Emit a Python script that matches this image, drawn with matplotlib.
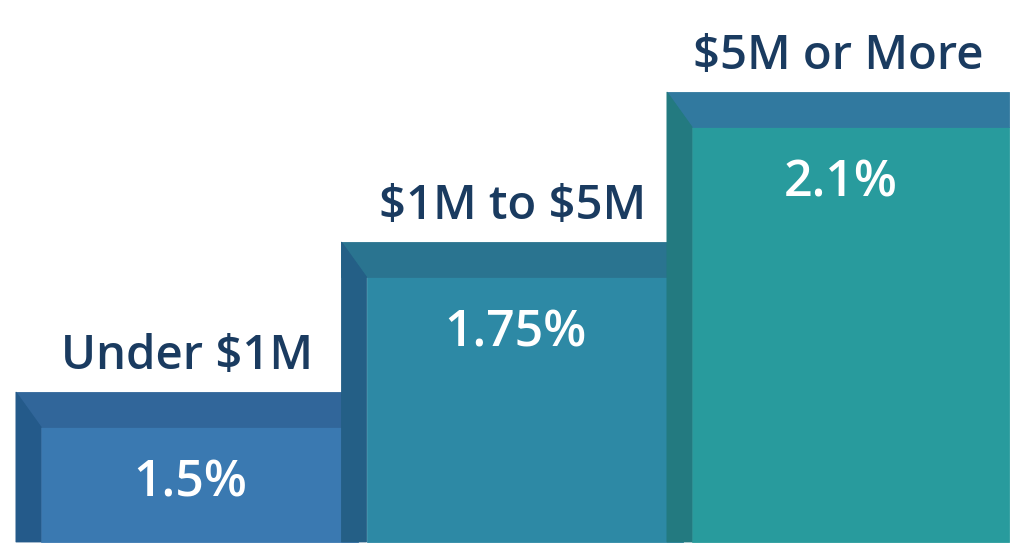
import matplotlib.pyplot as plt
from matplotlib.patches import Polygon, Rectangle

# data
tiers = [r"Under \$1M", r"\$1M to \$5M", r"\$5M or More"]
rates = ["1.5%", "1.75%", "2.1%"]
steps = [1, 2, 3]  # staircase level of each tier

front_colors = ["#3a79b1", "#2d89a5", "#289b9d"]
top_colors = ["#31669a", "#2a7490", "#31799f"]
side_colors = ["#245a8a", "#245f86", "#237a80"]

plt.rcParams['font.family'] = ['Open Sans', 'DejaVu Sans']

fig = plt.figure(figsize=(10.24, 5.59), dpi=100)
ax = fig.add_axes([0, 0, 1, 1])
ax.set_xlim(-0.049, -0.049 + 1024 / 325.5)
ax.set_ylim(-17 / 150, (559 - 17) / 150)
ax.axis('off')

width = 1.05   # bar width incl. side face
dx = 0.077     # side face depth (x)
dy = 0.233     # top face depth (y)

for i, (lab, val, h) in enumerate(zip(tiers, rates, steps)):
    left = i
    # front face
    ax.add_patch(Rectangle((left + dx, 0), width - dx, h - dy,
                           facecolor=front_colors[i], edgecolor=front_colors[i], lw=0.6))
    # top face
    ax.add_patch(Rectangle((left, h - dy), width, dy,
                           facecolor=top_colors[i], edgecolor=top_colors[i], lw=0.6))
    # left side face
    ax.add_patch(Polygon([(left, h), (left + dx, h - dy), (left + dx, 0), (left, 0)],
                         closed=True, facecolor=side_colors[i],
                         edgecolor=side_colors[i], lw=0.6))

    cx = left + width / 2
    ax.text(cx, h + 0.15, lab, ha='center', va='baseline', fontsize=34,
            fontweight='semibold', color='#1a3b60')
    ax.text(cx + 0.01, h - dy - 0.38, val, ha='center', va='center', fontsize=36,
            fontweight='semibold', color='white')

fig.savefig("out.png", dpi=100)
